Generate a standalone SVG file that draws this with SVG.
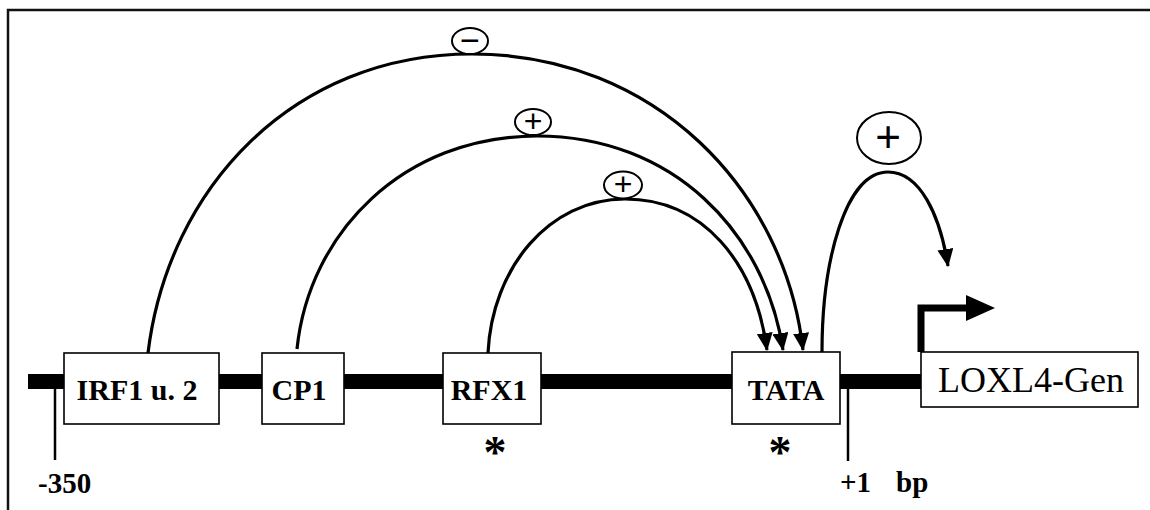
<svg xmlns="http://www.w3.org/2000/svg" width="1150" height="510" viewBox="0 0 1150 510">
<defs>
<marker id="ah" viewBox="0 0 18 16" refX="17" refY="8" markerWidth="18" markerHeight="16" markerUnits="userSpaceOnUse" orient="auto">
<path d="M0,0 L18,8 L0,16 z" fill="#000"/>
</marker>
</defs>
<style>
.box{fill:#fff;stroke:#000;stroke-width:1.6}
.lbl{font-family:"Liberation Serif","Times New Roman",serif;font-weight:bold;font-size:30px;fill:#000}
.num{font-family:"Liberation Serif","Times New Roman",serif;font-weight:bold;font-size:29px;fill:#000}
.gene{font-family:"Liberation Serif","Times New Roman",serif;font-size:36px;fill:#000}
.arc{fill:none;stroke:#000;stroke-width:3.2}
.sig{fill:#fff;stroke:#000;stroke-width:2}
.sign{font-family:"Liberation Sans",Arial,sans-serif;fill:#000;text-anchor:middle;dominant-baseline:central}
.tick{stroke:#000;stroke-width:2.5}
.star{font-family:"Liberation Serif","Times New Roman",serif;font-weight:bold;font-size:46px;text-anchor:middle;fill:#000}
</style>
<rect width="1150" height="510" fill="#fff"/>
<g id="frame">
<path d="M8,510 V10 H1150" fill="none" stroke="#111" stroke-width="2.5"/>
</g>
<g id="dna">
<line x1="28" y1="381.5" x2="922" y2="381.5" stroke="#000" stroke-width="15"/>
<line class="tick" x1="55" y1="382" x2="55" y2="460"/>
<line class="tick" x1="848" y1="382" x2="848" y2="461"/>
</g>
<g id="connectors">
<path class="arc" d="M148,353 C168,188 293,54 472,54 C655,54 785,190 803,350" marker-end="url(#ah)"/>
<path class="arc" d="M297,349 C309,232 404,136 537,136 C673,136 765,232 783,350" marker-end="url(#ah)"/>
<path class="arc" d="M488,353 C492,268 549,199 625,199 C703,199 755,262 767,350" marker-end="url(#ah)"/>
<path class="arc" d="M822,352 C822,262 845,172 888,172 C920,172 940,215 948,266" marker-end="url(#ah)"/>
<path d="M921,352 V308 H968" fill="none" stroke="#000" stroke-width="7"/>
<path d="M966,295 L995,308 L966,321 z" fill="#000"/>
</g>
<g id="sign-minus">
<ellipse class="sig" cx="470" cy="41" rx="18" ry="13"/>
<text class="sign" x="470" y="40" font-size="34">−</text>
</g>
<g id="sign-plus-cp1">
<ellipse class="sig" cx="533" cy="122" rx="18" ry="13"/>
<text class="sign" x="533" y="121" font-size="32">+</text>
</g>
<g id="sign-plus-rfx1">
<ellipse class="sig" cx="623" cy="185" rx="19" ry="13.5"/>
<text class="sign" x="623" y="184" font-size="32">+</text>
</g>
<g id="sign-plus-tata">
<ellipse class="sig" cx="889" cy="138" rx="32" ry="26"/>
<text class="sign" x="888" y="136" font-size="44">+</text>
</g>
<g id="irf1">
<rect class="box" x="64" y="353" width="155" height="71"/>
<text class="lbl" x="137" y="400" text-anchor="middle">IRF1 u. 2</text>
</g>
<g id="cp1">
<rect class="box" x="262" y="353" width="82" height="71"/>
<text class="lbl" x="299" y="400" text-anchor="middle">CP1</text>
</g>
<g id="rfx1">
<rect class="box" x="443" y="353" width="98" height="71"/>
<text class="lbl" x="489" y="400" text-anchor="middle">RFX1</text>
<text class="star" x="495" y="468">*</text>
</g>
<g id="tata">
<rect class="box" x="732" y="352" width="108" height="72"/>
<text class="lbl" x="786" y="400" text-anchor="middle">TATA</text>
<text class="star" x="780" y="468">*</text>
</g>
<g id="loxl4">
<rect class="box" x="921" y="352" width="217" height="55"/>
<text class="gene" x="938" y="392">LOXL4-Gen</text>
</g>
<g id="labels">
<text class="num" x="38" y="493">-350</text>
<text class="num" x="840" y="492">+1</text>
<text class="num" x="896" y="492">bp</text>
</g>
</svg>
